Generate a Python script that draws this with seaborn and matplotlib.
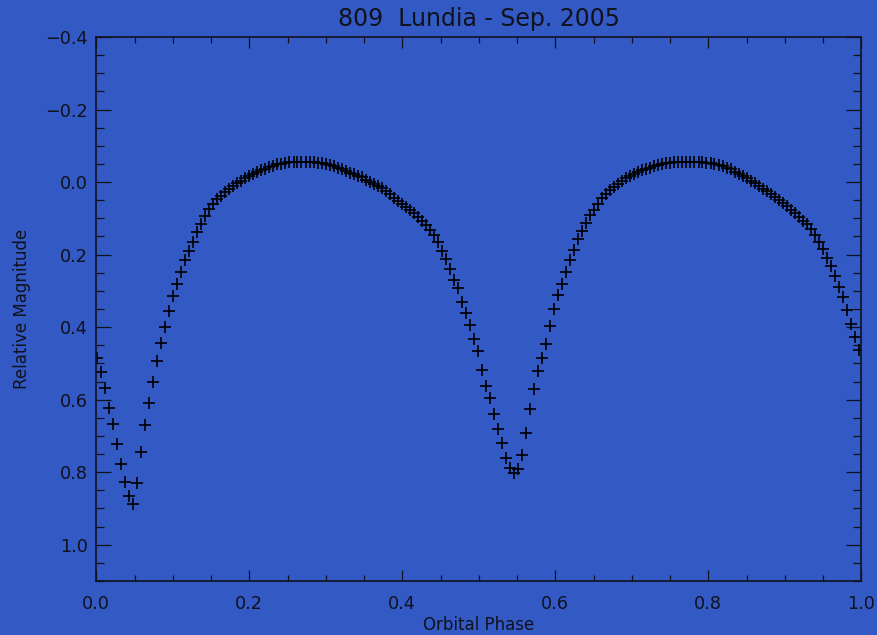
import matplotlib
matplotlib.use("Agg")
import matplotlib.pyplot as plt
from matplotlib.ticker import MultipleLocator, FuncFormatter
import seaborn as sns
import pandas as pd

# Folded light curve of asteroid 809 Lundia
phase = [
    0.0009, 0.0062, 0.0114, 0.0166, 0.0219, 0.0271, 0.0324, 0.0376, 0.0429, 0.0481,
    0.0533, 0.0586, 0.0638, 0.0691, 0.0743, 0.0795, 0.0848, 0.0900, 0.0953, 0.1005,
    0.1058, 0.1110, 0.1162, 0.1215, 0.1267, 0.1320, 0.1372, 0.1424, 0.1477, 0.1529,
    0.1582, 0.1634, 0.1686, 0.1739, 0.1791, 0.1844, 0.1896, 0.1949, 0.2001, 0.2053,
    0.2106, 0.2158, 0.2211, 0.2263, 0.2315, 0.2368, 0.2420, 0.2473, 0.2525, 0.2578,
    0.2630, 0.2682, 0.2735, 0.2787, 0.2840, 0.2892, 0.2944, 0.2997, 0.3049, 0.3102,
    0.3154, 0.3207, 0.3259, 0.3311, 0.3364, 0.3416, 0.3469, 0.3521, 0.3573, 0.3626,
    0.3678, 0.3731, 0.3783, 0.3836, 0.3888, 0.3940, 0.3993, 0.4045, 0.4098, 0.4150,
    0.4202, 0.4255, 0.4307, 0.4360, 0.4412, 0.4465, 0.4517, 0.4569, 0.4622, 0.4674,
    0.4727, 0.4779, 0.4831, 0.4884, 0.4936, 0.4989, 0.5041, 0.5094, 0.5146, 0.5198,
    0.5251, 0.5303, 0.5356, 0.5408, 0.5460, 0.5513, 0.5565, 0.5618, 0.5670, 0.5723,
    0.5775, 0.5827, 0.5880, 0.5932, 0.5985, 0.6037, 0.6089, 0.6142, 0.6194, 0.6247,
    0.6299, 0.6352, 0.6404, 0.6456, 0.6509, 0.6561, 0.6614, 0.6666, 0.6718, 0.6771,
    0.6823, 0.6876, 0.6928, 0.6981, 0.7033, 0.7085, 0.7138, 0.7190, 0.7243, 0.7295,
    0.7347, 0.7400, 0.7452, 0.7505, 0.7557, 0.7610, 0.7662, 0.7714, 0.7767, 0.7819,
    0.7872, 0.7924, 0.7976, 0.8029, 0.8081, 0.8134, 0.8186, 0.8239, 0.8291, 0.8343,
    0.8396, 0.8448, 0.8501, 0.8553, 0.8605, 0.8658, 0.8710, 0.8763, 0.8815, 0.8868,
    0.8920, 0.8972, 0.9025, 0.9077, 0.9130, 0.9182, 0.9234, 0.9287, 0.9339, 0.9392,
    0.9444, 0.9497, 0.9549, 0.9601, 0.9654, 0.9706, 0.9759, 0.9811, 0.9863, 0.9916,
    0.9968,
]

magnitude = [
    0.485, 0.525, 0.567, 0.623, 0.667, 0.722, 0.777, 0.826, 0.865, 0.887,
    0.829, 0.744, 0.669, 0.609, 0.551, 0.493, 0.444, 0.399, 0.355, 0.314,
    0.281, 0.248, 0.215, 0.190, 0.165, 0.138, 0.116, 0.094, 0.074, 0.061,
    0.048, 0.038, 0.028, 0.019, 0.012, 0.003, -0.004, -0.010, -0.017, -0.023,
    -0.028, -0.033, -0.037, -0.042, -0.045, -0.049, -0.051, -0.053, -0.054, -0.055,
    -0.056, -0.056, -0.056, -0.055, -0.055, -0.053, -0.052, -0.049, -0.046, -0.043,
    -0.039, -0.035, -0.031, -0.026, -0.022, -0.018, -0.013, -0.007, -0.001, 0.005,
    0.012, 0.017, 0.024, 0.033, 0.043, 0.051, 0.060, 0.069, 0.077, 0.085,
    0.095, 0.106, 0.118, 0.131, 0.146, 0.165, 0.189, 0.213, 0.241, 0.270,
    0.292, 0.332, 0.361, 0.395, 0.433, 0.467, 0.519, 0.561, 0.595, 0.639,
    0.680, 0.719, 0.760, 0.789, 0.802, 0.792, 0.752, 0.691, 0.625, 0.570,
    0.521, 0.485, 0.446, 0.398, 0.351, 0.311, 0.280, 0.248, 0.216, 0.186,
    0.158, 0.134, 0.112, 0.092, 0.076, 0.061, 0.045, 0.032, 0.022, 0.013,
    0.004, -0.003, -0.010, -0.017, -0.023, -0.028, -0.033, -0.037, -0.040, -0.043,
    -0.047, -0.049, -0.052, -0.053, -0.054, -0.055, -0.056, -0.056, -0.056, -0.056,
    -0.056, -0.055, -0.053, -0.052, -0.050, -0.047, -0.045, -0.040, -0.035, -0.029,
    -0.023, -0.017, -0.010, -0.003, 0.003, 0.010, 0.018, 0.026, 0.033, 0.042,
    0.050, 0.058, 0.067, 0.077, 0.086, 0.096, 0.106, 0.117, 0.129, 0.145,
    0.165, 0.185, 0.208, 0.231, 0.260, 0.289, 0.318, 0.353, 0.390, 0.427,
    0.463,
]

x_ticks = [0.0, 0.2, 0.4, 0.6, 0.8, 1.0]
y_ticks = [-0.4, -0.2, 0.0, 0.2, 0.4, 0.6, 0.8, 1.0]

title_text = "809  Lundia - Sep. 2005"
x_label = "Orbital Phase"
y_label = "Relative Magnitude"

BG = "#3259C4"
INK = "#10121c"

sns.set_theme(style="ticks")
plt.rcParams["font.family"] = ["DejaVu Sans"]
plt.rcParams.update({
    "figure.facecolor": BG,
    "axes.facecolor": BG,
    "axes.edgecolor": INK,
    "axes.labelcolor": INK,
    "text.color": INK,
    "xtick.color": INK,
    "ytick.color": INK,
})

df = pd.DataFrame({"phase": phase, "mag": magnitude})

fig = plt.figure(figsize=(8.78, 6.35), dpi=100)
ax = fig.add_axes([96.3 / 878, 1 - 581 / 635, (861.3 - 96.3) / 878, (581 - 37) / 635])

sns.scatterplot(data=df, x="phase", y="mag", ax=ax, marker="+", s=80,
                color="black", linewidth=1.2, legend=False)

ax.set_xlim(0.0, 1.0)
ax.set_ylim(1.1, -0.4)
ax.set_xticks(x_ticks)
ax.set_yticks(y_ticks)
ax.xaxis.set_minor_locator(MultipleLocator(0.05))
ax.yaxis.set_minor_locator(MultipleLocator(0.05))

fmt = FuncFormatter(lambda v, _: f"{v:.1f}".replace("-", "\u2212"))
ax.xaxis.set_major_formatter(fmt)
ax.yaxis.set_major_formatter(fmt)

for side in ["top", "right", "bottom", "left"]:
    ax.spines[side].set_visible(True)
    ax.spines[side].set_linewidth(1.2)

ax.tick_params(axis="both", which="both", direction="in",
               top=True, right=True, width=0.9, labelsize=12.7, colors=INK)
ax.tick_params(axis="x", which="major", length=8, pad=10)
ax.tick_params(axis="x", which="minor", length=4)
ax.tick_params(axis="y", which="major", length=11, pad=6)
ax.tick_params(axis="y", which="minor", length=5.5)

ax.set_xlabel(x_label, fontsize=12, labelpad=2)
ax.set_ylabel(y_label, fontsize=12, labelpad=10)
ax.set_title(title_text, fontsize=17, pad=8, color=INK)

fig.savefig("out.png", dpi=100, facecolor=BG)
